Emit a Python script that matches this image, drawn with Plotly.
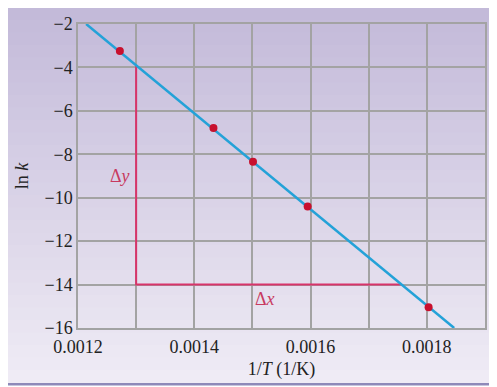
import plotly.graph_objects as go

# Data
inv_T = [0.001272, 0.001433, 0.001501, 0.001595, 0.001803]
ln_k = [-3.24, -6.79, -8.34, -10.41, -15.05]

fit_x = [0.001214, 0.001847]
fit_y = [-2.0, -16.0]

tri_x = [0.0013, 0.0013, 0.001755]
tri_y = [-3.92, -14.0, -14.0]

x_range = [0.0012, 0.0019]
y_range = [-16, -2]
x_tickvals = [0.0012, 0.0014, 0.0016, 0.0018]
x_ticktext = ["0.0012", "0.0014", "0.0016", "0.0018"]
y_tickvals = [-16, -14, -12, -10, -8, -6, -4, -2]

FONT = "Liberation Serif"
GRID = "#a3a3a3"
BLUE = "#24a2d8"
RED = "#c8102e"
PINK = "#d8336a"
FS = 18

fig = go.Figure()
fig.add_trace(go.Scatter(x=tri_x, y=tri_y, mode="lines",
                         line=dict(color=PINK, width=2), hoverinfo="skip"))
fig.add_trace(go.Scatter(x=fit_x, y=fit_y, mode="lines",
                         line=dict(color=BLUE, width=2.5), hoverinfo="skip"))
fig.add_trace(go.Scatter(x=inv_T, y=ln_k, mode="markers",
                         marker=dict(color=RED, size=8)))

fig.add_annotation(x=0.001272, y=-9.0, text="Δ<i>y</i>", showarrow=False,
                   font=dict(family=FONT, size=FS, color="#c83a60"))
fig.add_annotation(x=0.001522, y=-14.65, text="Δ<i>x</i>", showarrow=False,
                   font=dict(family=FONT, size=FS, color="#c83a60"))

# lavender panel with vertical gradient (bands)
def lerp(c1, c2, t):
    return "#%02x%02x%02x" % tuple(int(round(a + (b - a) * t)) for a, b in zip(c1, c2))

top_c = (0xc3, 0xba, 0xd9)
bot_c = (0xef, 0xeb, 0xf5)
x0p, x1p = -0.172, 1.022
y0p, y1p = -0.181, 1.0526
n = 30
shapes = []
for i in range(n):
    ya = y1p - (y1p - y0p) * i / n
    yb = y1p - (y1p - y0p) * (i + 1) / n
    shapes.append(dict(type="rect", xref="paper", yref="paper", x0=x0p, x1=x1p,
                       y0=yb, y1=ya + 0.002, line=dict(width=0),
                       fillcolor=lerp(top_c, bot_c, i / (n - 1)), layer="below"))
shapes.append(dict(type="rect", xref="paper", yref="paper", x0=x0p, x1=x1p,
                   y0=y0p - 0.008, y1=y0p, line=dict(width=0),
                   fillcolor="#8e89b9", layer="below"))
fig.update_layout(shapes=shapes)

# the page body adds an 8px offset, so the figure is 8px smaller and shifted
fig.update_layout(
    width=489, height=379,
    margin=dict(l=70, r=12, t=16, b=59),
    paper_bgcolor="white", plot_bgcolor="white",
    showlegend=False,
    font=dict(family=FONT, size=FS, color="#222222"),
)
fig.update_xaxes(
    range=x_range, tickvals=x_tickvals, ticktext=x_ticktext,
    showgrid=True, gridcolor=GRID, gridwidth=1.5,
    minor=dict(dtick=0.0001, tick0=0.0012, showgrid=True, gridcolor=GRID, gridwidth=1.5),
    showline=True, linecolor=GRID, linewidth=1.5, mirror=True,
    zeroline=False, ticks="", ticklabelstandoff=2, automargin=False,
    title=dict(text="1/<i>T</i> (1/K)", standoff=6, font=dict(family=FONT, size=FS)),
)
fig.update_yaxes(
    range=y_range, tickvals=y_tickvals,
    showgrid=True, gridcolor=GRID, gridwidth=1.5,
    showline=True, linecolor=GRID, linewidth=1.5, mirror=True,
    zeroline=False, ticks="", ticklabelstandoff=0, automargin=False,
    title=dict(text="ln <i>k</i>", standoff=11, font=dict(family=FONT, size=FS)),
)

fig.write_html("out.html")
